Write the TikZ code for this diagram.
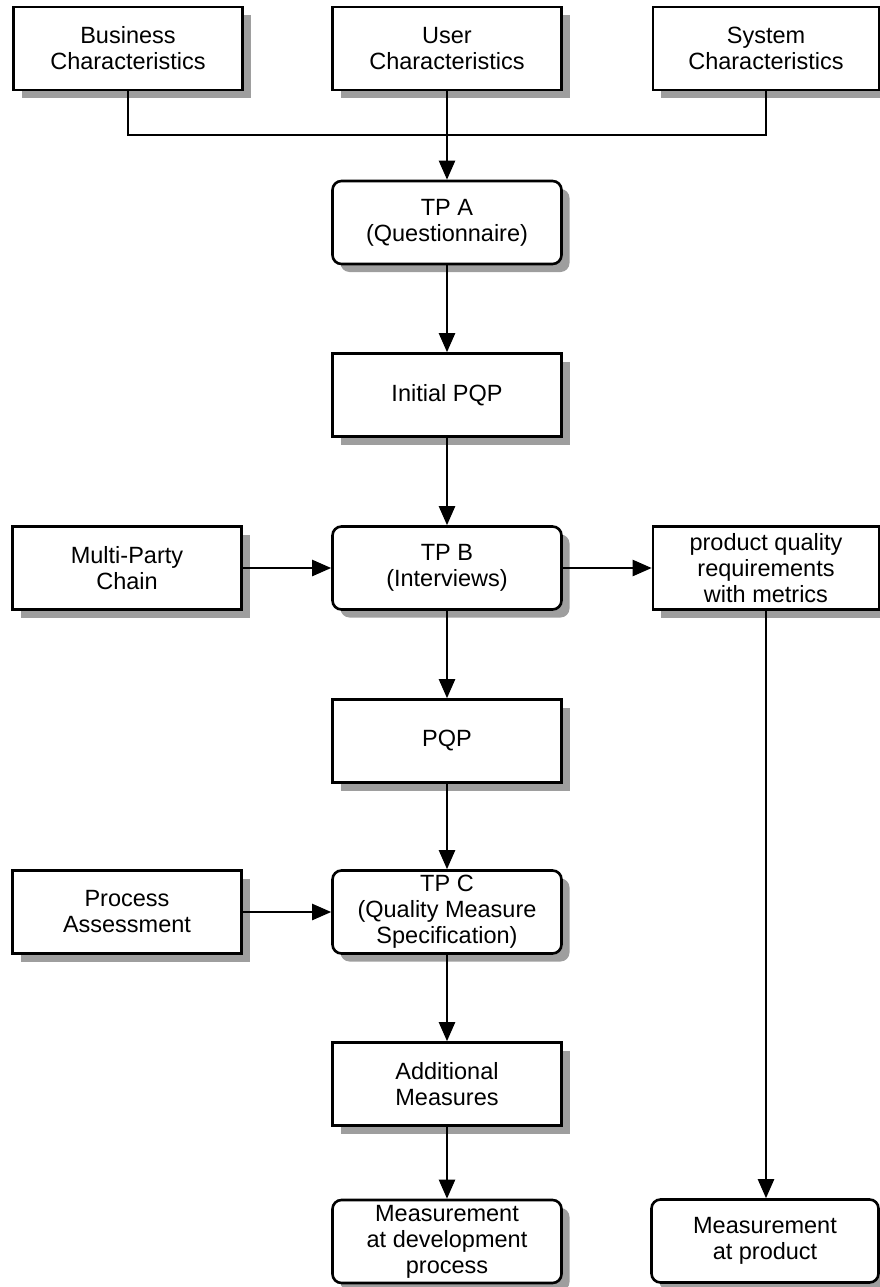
\documentclass[tikz,border=0pt]{standalone}
\usepackage{fontspec}
\setmainfont{Liberation Sans}
\usetikzlibrary{arrows.meta,shadows}
\begin{document}
\begin{tikzpicture}[x=1pt,y=-1pt,
  box/.style={draw=black, line width=2.6pt, fill=white,
    minimum width=229pt, minimum height=83pt, inner sep=0pt, align=center,
    font=\fontsize{23.5}{26}\selectfont,
    drop shadow={shadow xshift=8pt, shadow yshift=-8pt, fill=black!38, opacity=1}},
  tp/.style={box, rounded corners=9pt},
  link/.style={line width=2.3pt},
  flow/.style={link, -{Triangle[length=19pt,width=16pt]}},
]
\useasboundingbox (0,0) rectangle (880,1287);

% input characteristics
\node[box] (bus) at (128,48.5) {Business\\Characteristics};
\node[box] (usr) at (447,48.5) {User\\Characteristics};
\node[box, minimum width=226pt] (sys) at (766,48.5) {System\\Characteristics};

% main chain
\node[tp]  (tpa)  at (447,222.5) {TP A\\(Questionnaire)};
\node[box] (ipqp) at (447,395)   {Initial PQP};
\node[tp]  (tpb)  at (447,568)   {TP B\\(Interviews)};
\node[box] (pqp)  at (447,741)   {PQP};
\node[tp]  (tpc)  at (447,912)   {TP C\\(Quality Measure\\Specification)};
\node[box] (addm) at (447,1084)  {Additional\\Measures};
\node[tp]  (mdev) at (447,1241.5) {Measurement\\at development\\process};

% side inputs and outputs
\node[box] (mpc)   at (127,568)  {Multi-Party\\Chain};
\node[box, minimum width=226pt] (pqr) at (766,568) {product quality\\requirements\\with metrics};
\node[box] (pa)    at (127,912)  {Process\\Assessment};
\node[tp, minimum width=227pt] (mprod) at (765,1241) {Measurement\\at product};

% connectors
\coordinate (join) at (447,135);
\draw[link] (bus.south) |- (join) -| (sys.south);
\draw[flow] (usr.south) -- (tpa.north);
\draw[flow] (tpa) -- (ipqp);
\draw[flow] (ipqp) -- (tpb);
\draw[flow] (mpc) -- (tpb);
\draw[flow] (tpb) -- (pqr);
\draw[flow] (tpb) -- (pqp);
\draw[flow] (pqp) -- (tpc);
\draw[flow] (pa) -- (tpc);
\draw[flow] (tpc) -- (addm);
\draw[flow] (addm) -- (mdev);
\draw[flow] (pqr.south) -- (pqr.south |- mprod.north);
\end{tikzpicture}
\end{document}
